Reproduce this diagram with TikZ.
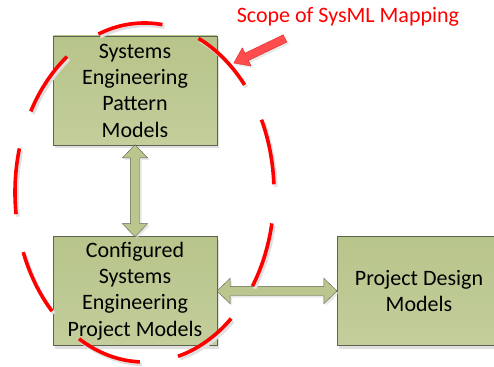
\documentclass[tikz,border=0pt]{standalone}
\usepackage{fontspec}
\setmainfont{Carlito}
\usetikzlibrary{shapes.arrows,shadows}

\definecolor{boxtop}{HTML}{B7C48A}
\definecolor{boxbot}{HTML}{C3CE9C}
\definecolor{boxline}{HTML}{5E6350}
\definecolor{arrowfill}{HTML}{BAC68E}

\begin{document}
\begin{tikzpicture}[x=1pt, y=-1pt,
    model/.style={draw=boxline, top color=boxtop, bottom color=boxbot, thin,
        minimum width=164pt, minimum height=109pt, inner sep=0pt, align=center,
        font=\fontsize{22}{26.3}\selectfont,
        drop shadow={shadow xshift=2pt, shadow yshift=-3pt, fill=black!20, opacity=.6}},
    link/.style={double arrow, draw=boxline, fill=arrowfill, thin,
        inner xsep=0pt, inner ysep=4.5pt, double arrow head extend=8pt, double arrow tip angle=88,
        drop shadow={shadow xshift=2pt, shadow yshift=-2pt, fill=black!15, opacity=.6}},
    pointer/.style={single arrow, fill=red!70, draw=red!80!black, very thin,
        inner xsep=0pt, inner ysep=4pt, single arrow head extend=6pt, single arrow tip angle=70,
        drop shadow={shadow xshift=2pt, shadow yshift=-2pt, fill=black!15, opacity=.6}},
    scopeline/.style={line width=3.6pt, dash pattern=on 66pt off 38.8pt, dash phase=73.8pt}]

    \useasboundingbox (0,0) rectangle (494,366);
    \clip (0,0) rectangle (494,366);

    \node[model] (sepm) at (135,90.5) {Systems\\Engineering\\Pattern\\Models};
    \node[model] (cspm) at (135,291) {Configured\\Systems\\Engineering\\Project Models};
    \node[model] (pdm) at (419,291) {Project Design\\Models};

    \path (sepm.south) -- (cspm.north) node[link, midway, sloped, minimum height=92pt] (up) {};
    \path (cspm.east) -- (pdm.west) node[link, midway, sloped, minimum height=120pt] (across) {};

    \draw[scopeline, black!12] (146.5,195) ellipse [x radius=129.5, y radius=169.5];
    \draw[scopeline, red] (144.5,192.5) ellipse [x radius=129.5, y radius=169.5];

    \node[text=red, anchor=base, font=\fontsize{22}{26}\selectfont] (scope) at (348,23) {Scope of SysML Mapping};
    \coordinate (tail) at (288,37);
    \coordinate (tip) at (236,62);
    \path (tail) -- (tip) node[pointer, midway, sloped, allow upside down, minimum height=57pt] (hint) {};
\end{tikzpicture}
\end{document}
